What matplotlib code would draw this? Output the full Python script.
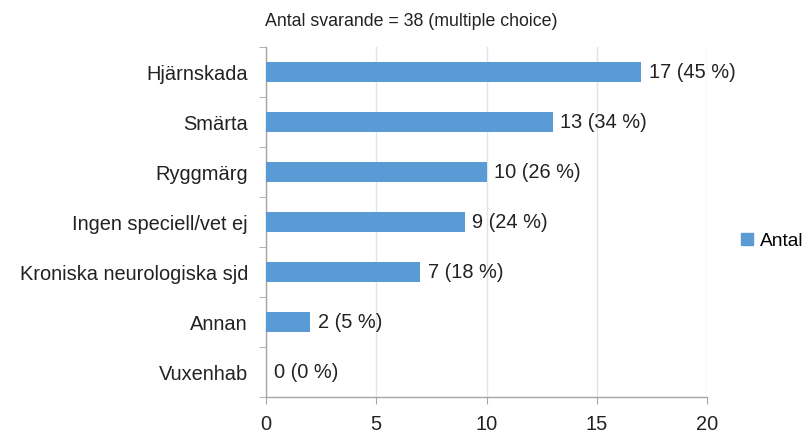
import numpy as np
import matplotlib
matplotlib.use("Agg")
from matplotlib import pyplot as plt
from matplotlib.patches import Patch

# Data
categories = ["Hjärnskada", "Smärta", "Ryggmärg", "Ingen speciell/vet ej",
              "Kroniska neurologiska sjd", "Annan", "Vuxenhab"]
counts = [17, 13, 10, 9, 7, 2, 0]
percents = [45, 34, 26, 24, 18, 5, 0]
x_ticks = [0, 5, 10, 15, 20]
title = "Antal svarande = 38 (multiple choice)"
legend_label = "Antal"

bar_color = "#5b9bd5"
grid_color = "#dde4f0"
axis_color = "#a6a6a6"
text_color = "#222222"

plt.rcParams['font.family'] = ['Liberation Sans', 'DejaVu Sans']
fs = 14.4

fig = plt.figure(figsize=(8.1, 4.39), dpi=100)
ax = fig.add_axes([0.3284, 0.0934, 0.873 - 0.3284, 0.8907 - 0.0934])

y_pos = np.arange(len(categories))
ax.barh(y_pos, counts, height=0.4, color=bar_color, zorder=3)

for y, c, p in zip(y_pos, counts, percents):
    ax.text(c + 0.35, y, f"{c} ({p} %)", va="center", ha="left",
            fontsize=fs, color=text_color)

ax.set_yticks(y_pos)
ax.set_yticklabels(categories, fontsize=fs, color=text_color)
ax.set_ylim(len(categories) - 0.5, -0.5)
ax.set_yticks(np.arange(len(categories) + 1) - 0.5, minor=True)
ax.tick_params(axis="y", which="major", length=0, pad=13)
ax.tick_params(axis="y", which="minor", length=5, color=axis_color, direction="out")

ax.set_xlim(0, 20)
ax.set_xticks(x_ticks)
ax.set_xticklabels([str(t) for t in x_ticks], fontsize=fs, color=text_color)
ax.tick_params(axis="x", length=5, color=axis_color, pad=7)
ax.xaxis.grid(True, color=grid_color, linewidth=1, zorder=0)

for s in ["top", "right"]:
    ax.spines[s].set_visible(False)
for s in ["left", "bottom"]:
    ax.spines[s].set_color(axis_color)
    ax.spines[s].set_linewidth(1)

fig.text(0.508, 0.952, title, ha="center", va="center", fontsize=12.8, color=text_color)

fig.legend(handles=[Patch(color=bar_color, label=legend_label)],
           loc="center left", bbox_to_anchor=(0.915, 0.449), frameon=False,
           fontsize=fs - 0.6, handlelength=0.6, handleheight=0.6, handletextpad=0.4,
           borderaxespad=0, borderpad=0)

fig.savefig("out.png", dpi=100)
